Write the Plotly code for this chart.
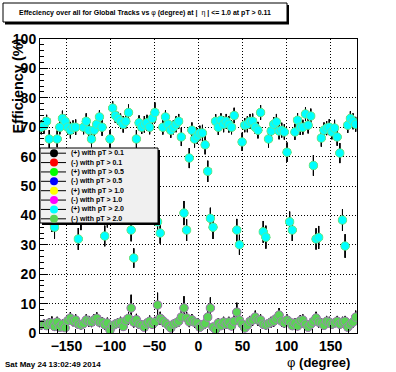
import numpy as np
import plotly.graph_objects as go

# ---------------- data ----------------
phi_centers = np.arange(-178.5, 180.0, 3.0)  # 120 bins, 3 degrees wide

eff_plus = [
    70, 70.5, 72, 66, 38, 36, 66, 70, 73, 72,
    70, 69, 70, 70, 32, 39, 70, 72, 69, 66,
    69, 71, 73.5, 70, 33, 40, 66, 76.5, 74, 73,
    72, 71, 72, 75, 35, 25.5, 66, 71.5, 70, 71,
    71.5, 70, 73, 75, 37.8, 34, 70, 73.5, 71, 69,
    70, 71, 72, 66.7, 40.8, 35, 59.5, 69, 66, 67,
    68, 68, 64, 55, 39, 36, 72, 70, 72.4, 71,
    72, 71, 70, 74, 35, 30, 65, 70.7, 71, 72,
    72, 70, 69, 75, 34.4, 32.6, 66, 68.7, 71, 71.8,
    68.7, 69, 68.4, 61.5, 37.8, 35, 68.4, 72.4, 70, 70,
    74.5, 70.7, 73.8, 57, 32, 32.5, 66.3, 69, 69.7, 70,
    68.4, 69.7, 66.7, 61.2, 38.4, 29.6, 70.7, 73, 72, 71,
]
err_plus = [
    2.4, 2.7, 2.2, 3.0, 3.6, 3.9, 2.8, 2.4, 2.6, 2.2,
    2.5, 2.8, 2.3, 2.6, 3.7, 4.0, 2.4, 2.7, 3.1, 2.8,
    2.4, 2.6, 2.2, 2.9, 3.5, 4.1, 3.0, 2.3, 2.5, 2.2,
    2.6, 2.8, 2.4, 2.7, 3.8, 3.3, 3.0, 2.5, 2.3, 2.8,
    2.7, 2.4, 2.6, 3.4, 3.9, 3.6, 2.5, 2.2, 2.8, 2.6,
    2.4, 2.7, 2.5, 3.1, 4.1, 3.7, 3.4, 2.6, 2.9, 2.7,
    2.5, 2.8, 3.2, 3.6, 3.6, 4.0, 2.4, 2.6, 2.3, 2.7,
    2.5, 2.8, 2.4, 2.6, 3.8, 3.4, 3.1, 2.4, 2.7, 2.5,
    2.6, 2.3, 2.8, 2.5, 3.7, 3.9, 2.9, 2.6, 2.4, 2.7,
    2.8, 2.5, 2.6, 3.3, 3.5, 3.7, 2.7, 2.4, 2.6, 2.5,
    2.3, 2.8, 2.5, 3.5, 3.6, 3.9, 2.9, 2.6, 2.4, 2.7,
    2.5, 2.8, 3.0, 3.4, 3.7, 4.0, 2.6, 2.4, 2.7, 2.5,
]
eff_minus = [
    2.7, 3.0, 2.5, 3.4, 3.4, 2.2, 3.7, 2.0, 3.0, 1.8,
    4.2, 5.1, 4.0, 4.4, 3.0, 2.7, 3.2, 4.4, 4.0, 3.7,
    4.5, 5.0, 3.7, 3.7, 2.8, 3.4, 1.0, 2.5, 3.0, 3.4,
    3.7, 2.2, 4.2, 5.0, 8.5, 3.7, 4.5, 3.0, 2.7, 2.0,
    3.4, 4.0, 3.0, 3.7, 9.5, 5.0, 4.2, 3.4, 2.6, 1.7,
    3.0, 3.4, 4.0, 5.4, 8.5, 5.1, 3.8, 4.5, 3.7, 3.4,
    2.0, 2.7, 3.2, 5.4, 8.5, 2.0, 1.2, 3.4, 2.5, 3.7,
    3.0, 3.7, 2.4, 4.0, 7.1, 4.4, 3.0, 1.7, 2.6, 4.0,
    4.4, 5.4, 4.4, 4.4, 3.0, 2.7, 3.2, 3.7, 4.0, 5.0,
    6.1, 4.0, 3.4, 4.4, 3.7, 2.5, 3.4, 2.4, 4.2, 4.4,
    3.0, 2.0, 3.0, 4.0, 5.1, 3.7, 3.4, 2.6, 4.0, 3.7,
    3.0, 3.4, 4.0, 3.0, 3.7, 4.0, 2.0, 3.0, 3.7, 5.4,
]
err_minus = [
    1.5, 1.6, 1.4, 1.7, 2.2, 1.5, 1.8, 1.3, 1.5, 1.2,
    1.8, 2.0, 1.7, 1.9, 1.6, 1.5, 1.6, 1.9, 1.8, 1.7,
    1.9, 2.0, 1.7, 1.7, 1.6, 1.8, 1.0, 1.4, 1.6, 1.7,
    1.8, 1.3, 1.9, 2.1, 4.5, 1.8, 2.0, 1.6, 1.5, 1.3,
    1.7, 1.9, 1.6, 1.8, 4.2, 2.2, 1.9, 1.7, 1.5, 1.2,
    1.6, 1.7, 1.9, 2.2, 4.0, 2.1, 1.8, 1.9, 1.8, 1.7,
    1.3, 1.5, 1.6, 2.2, 3.6, 1.4, 1.1, 1.7, 1.5, 1.8,
    1.6, 1.8, 1.4, 1.9, 3.2, 1.9, 1.6, 1.2, 1.5, 1.8,
    1.9, 2.2, 1.9, 1.9, 1.6, 1.5, 1.6, 1.8, 1.8, 2.1,
    2.4, 1.8, 1.7, 1.9, 1.8, 1.5, 1.7, 1.4, 1.8, 1.9,
    1.6, 1.3, 1.6, 1.8, 2.1, 1.8, 1.7, 1.5, 1.8, 1.8,
    1.6, 1.7, 1.8, 1.6, 1.8, 1.8, 1.3, 1.6, 1.8, 2.2,
]

series_labels = [
    "(+) with pT > 0.1", "(-) with pT > 0.1",
    "(+) with pT > 0.5", "(-) with pT > 0.5",
    "(+) with pT > 1.0", "(-) with pT > 1.0",
    "(+) with pT > 2.0", "(-) with pT > 2.0",
]
series_charge = ["+", "-", "+", "-", "+", "-", "+", "-"]
series_colors = ["#000000", "#ff0000", "#00ff00", "#0000ff",
                 "#ffff00", "#ff00ff", "#00ffff", "#59d454"]
series_rims = [None, None, None, None, None, None,
               "rgba(110,230,140,0.7)", "rgba(160,130,180,0.85)"]

x_tick_vals = [-150, -100, -50, 0, 50, 100, 150]
y_tick_vals = [0, 10, 20, 30, 40, 50, 60, 70, 80, 90, 100]

title_text = ("Effeciency over all for Global Tracks vs "
              "<span style='font-weight:normal'>φ</span> (degree) at |  "
              "<span style='font-weight:normal'>η</span> | <= 1.0 at pT > 0.11")
date_text = "Sat May 24 13:02:49 2014"
x_title = "<span style='font-weight:normal'>φ</span> (degree)"
y_title = "Efficiency (%)"

# ---------------- layout geometry (pixels) ----------------
W, H = 396, 372
L, R, T, B = 40, 39, 39, 39
PW, PH = W - L - R, H - T - B
FONT = "Liberation Sans, Arial, Helvetica, sans-serif"
DOTS = "1px,2px"


def px_x(p):
    return (p - L) / PW


def px_y(p):
    return (H - B - p) / PH


fig = go.Figure()

for lab, ch, col, rim in zip(series_labels, series_charge, series_colors, series_rims):
    vals = eff_plus if ch == "+" else eff_minus
    errs = err_plus if ch == "+" else err_minus
    mline = dict(width=1, color=rim) if rim else dict(width=0)
    fig.add_trace(go.Scatter(
        x=phi_centers, y=vals, name=lab, mode="markers",
        marker=dict(symbol="circle", size=8.5, color=col, line=mline),
        error_y=dict(type="data", array=errs, visible=True, color="black",
                     thickness=1, width=0),
        showlegend=False,
    ))

shapes = []
annotations = []

# title box with shadow
shapes.append(dict(type="rect", xref="paper", yref="paper",
                   x0=px_x(5), x1=px_x(289), y0=px_y(5), y1=px_y(24.5),
                   fillcolor="black", line=dict(width=0)))
shapes.append(dict(type="rect", xref="paper", yref="paper",
                   x0=px_x(3), x1=px_x(287), y0=px_y(3), y1=px_y(22),
                   fillcolor="white", line=dict(color="black", width=1)))
annotations.append(dict(xref="paper", yref="paper", x=px_x(145), y=px_y(12.5),
                        text=title_text, showarrow=False, xanchor="center", yanchor="middle",
                        font=dict(family=FONT, size=7, color="black", weight="bold")))

# legend box with shadow
LX0, LX1, LY0, LY1 = 40, 158, 148, 223
shapes.append(dict(type="rect", xref="paper", yref="paper",
                   x0=px_x(LX0 + 2), x1=px_x(LX1 + 2), y0=px_y(LY0 + 2), y1=px_y(LY1 + 2),
                   fillcolor="black", line=dict(width=0)))
shapes.append(dict(type="rect", xref="paper", yref="paper",
                   x0=px_x(LX0), x1=px_x(LX1), y0=px_y(LY0), y1=px_y(LY1),
                   fillcolor="#f0f0f0", line=dict(color="black", width=1)))
row_h = (LY1 - LY0) / len(series_labels)
for k, (lab, col) in enumerate(zip(series_labels, series_colors)):
    yc = LY0 + row_h * (k + 0.5) + 0.5
    shapes.append(dict(type="line", xref="paper", yref="paper",
                       x0=px_x(LX0 + 1), x1=px_x(66), y0=px_y(yc), y1=px_y(yc),
                       line=dict(color="black", width=1)))
    shapes.append(dict(type="circle", xref="paper", yref="paper",
                       xsizemode="pixel", ysizemode="pixel",
                       xanchor=px_x(54), yanchor=px_y(yc),
                       x0=-4, x1=4, y0=-4, y1=4,
                       fillcolor=col, line=dict(width=0)))
    annotations.append(dict(xref="paper", yref="paper", x=px_x(69), y=px_y(yc),
                            text=lab, showarrow=False, xanchor="left", yanchor="middle",
                            font=dict(family=FONT, size=7, color="black", weight="bold")))

# axis titles and date
annotations.append(dict(xref="paper", yref="paper", x=px_x(352), y=px_y(363),
                        text=x_title, showarrow=False, xanchor="right", yanchor="middle",
                        font=dict(family=FONT, size=13, color="black", weight="bold")))
annotations.append(dict(xref="paper", yref="paper", x=px_x(17), y=px_y(37),
                        text=y_title, showarrow=False, textangle=-90,
                        xanchor="center", yanchor="top",
                        font=dict(family=FONT, size=14.5, color="black", weight="bold")))
annotations.append(dict(xref="paper", yref="paper", x=px_x(3), y=px_y(364.5),
                        text=date_text, showarrow=False, xanchor="left", yanchor="middle",
                        font=dict(family=FONT, size=8, color="black", weight="bold")))

axis_common = dict(
    showline=True, linecolor="black", linewidth=1, mirror=True,
    ticks="inside", tickcolor="black", tickwidth=1,
    showgrid=True, gridcolor="black", gridwidth=1, griddash=DOTS,
    zeroline=False,
    tickfont=dict(family=FONT, size=14, color="black", weight="bold"),
)

fig.update_layout(
    width=W, height=H,
    margin=dict(l=L, r=R, t=T, b=B, pad=0),
    paper_bgcolor="white", plot_bgcolor="white",
    showlegend=False,
    hovermode=False,
    xaxis=dict(range=[-180, 180], tickvals=x_tick_vals, ticklen=8,
               minor=dict(dtick=10, tick0=0, ticklen=4, ticks="inside", tickcolor="black", showgrid=False),
               **axis_common),
    yaxis=dict(range=[0, 100], tickvals=y_tick_vals, ticklen=8,
               minor=dict(dtick=2, tick0=0, ticklen=4, ticks="inside", tickcolor="black", showgrid=False),
               **axis_common),
    shapes=shapes,
    annotations=annotations,
)

fig.write_html("out.html",
               config={"displayModeBar": False, "staticPlot": True},
               post_script="document.body.style.margin='0';document.body.style.padding='0';"
                           "document.body.style.overflow='hidden';")
